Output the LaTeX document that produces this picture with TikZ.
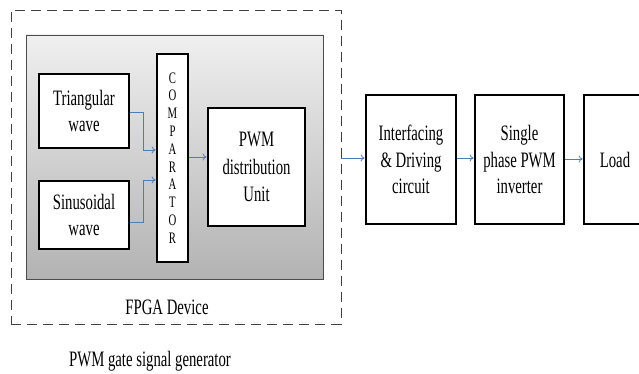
\documentclass[tikz,border=0pt]{standalone}
\usepackage{fontspec}
\setmainfont[FakeStretch=0.67]{Liberation Serif}
\usetikzlibrary{arrows.meta,calc}
\definecolor{arrblue}{RGB}{74,126,187}
\begin{document}
\begin{tikzpicture}[x=1pt,y=-1pt,
  blk/.style={draw=black,line width=2.8pt,fill=white,rectangle,inner sep=0pt,align=center,
    font=\fontsize{22}{26.5}\selectfont},
  arr/.style={draw=arrblue,line width=0.8pt,-{To[length=4pt,width=7pt]}},
  lbl/.style={font=\fontsize{22}{26}\selectfont,inner sep=0pt}]
\useasboundingbox (0,0) rectangle (639,374);
\node[draw=black!75,dash pattern=on 10pt off 6pt,line width=0.9pt,minimum width=330pt,minimum height=314pt,inner sep=0pt] (fpgabox) at (176,167) {};
\node[draw=black!70,line width=0.8pt,top color=black!6,bottom color=black!30,minimum width=297pt,minimum height=244pt,inner sep=0pt] (gray) at (174.5,157) {};
\node[blk,minimum width=90pt,minimum height=74pt] (tri) at (84,111) {Triangular\\wave};
\node[blk,minimum width=90pt,minimum height=68pt] (sin) at (84,215) {Sinusoidal\\wave};
\node[blk,minimum width=31pt,minimum height=208pt,font=\fontsize{16}{17.8}\selectfont] (cmp) at (172.5,158) {C\\O\\M\\P\\A\\R\\A\\T\\O\\R};
\node[blk,minimum width=97pt,minimum height=118pt,font=\fontsize{22}{27.5}\selectfont] (pwm) at (256.5,167) {PWM\\distribution\\Unit};
\node[blk,minimum width=90pt,minimum height=129pt] (intf) at (411,159.5) {Interfacing\\\& Driving\\circuit};
\node[blk,minimum width=89pt,minimum height=129pt] (inv) at (519.5,159.5) {Single\\phase PWM\\inverter};
\node[blk,minimum width=62pt,minimum height=129pt] (load) at (615,159.5) {Load};
\node[lbl] (fpgalbl) at (167,307) {FPGA Device};
\node[lbl] (gen) at (150,361) {PWM gate signal generator};
\draw[arr] (tri.east |- 0,112) -- (143,112) |- (cmp.west |- 0,150);
\draw[arr] (sin.east |- 0,222) -- (143,222) |- (cmp.west |- 0,180);
\draw[arr] (cmp.east |- 0,157) -- (pwm.west |- 0,157);
\draw[arr] (fpgabox.east |- 0,158) -- (intf.west |- 0,158);
\draw[arr] (intf.east |- 0,158) -- (inv.west |- 0,158);
\draw[arr] (inv.east |- 0,159) -- (load.west |- 0,159);
\end{tikzpicture}
\end{document}
